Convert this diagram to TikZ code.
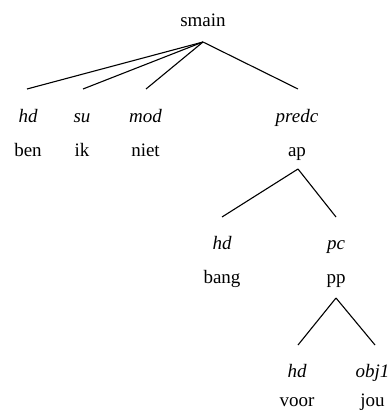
\documentclass[tikz,border=0pt]{standalone}
\usepackage{fontspec}
\setmainfont{Liberation Serif}
\newfontfamily\tnr{Liberation Serif}
\begin{document}
\begin{tikzpicture}[x=1pt,y=-1pt,
  txt/.style={anchor=base,inner sep=0pt,font=\tnr\fontsize{19}{22}\selectfont},
  rel/.style={txt,font=\tnr\fontsize{19}{22}\selectfont\itshape},
  edge/.style={line width=1.1pt,line join=round}]
\useasboundingbox (0,0) rectangle (390,412);
% level 0
\node[txt] (smain) at (203,27) {smain};
\coordinate (smainb) at (203,42);
% level 1
\node[rel] (r1) at (28,122) {hd};
\node[txt] (w1) at (28,156) {ben};
\node[rel] (r2) at (82,122) {su};
\node[txt] (w2) at (82,156) {ik};
\node[rel] (r3) at (145.5,122) {mod};
\node[txt] (w3) at (145.5,156) {niet};
\node[rel] (r4) at (297,122) {predc};
\node[txt] (ap) at (297,156) {ap};
\coordinate (t1) at (27,89);
\coordinate (t2) at (83,89);
\coordinate (t3) at (146,89);
\coordinate (t4) at (298,89);
\draw[edge] (smainb) -- (t1);
\draw[edge] (smainb) -- (t2);
\draw[edge] (smainb) -- (t3);
\draw[edge] (smainb) -- (t4);
% level 2
\coordinate (apb) at (298,169);
\node[rel] (r5) at (222,249) {hd};
\node[txt] (w5) at (222,283) {bang};
\node[rel] (r6) at (336,249) {pc};
\node[txt] (pp) at (336,283) {pp};
\coordinate (t5) at (222,217);
\coordinate (t6) at (336,217);
\draw[edge] (apb) -- (t5);
\draw[edge] (apb) -- (t6);
% level 3
\coordinate (ppb) at (336,298);
\node[rel] (r7) at (297,377) {hd};
\node[txt] (w7) at (297,406) {voor};
\node[rel] (r8) at (372.5,377) {obj1};
\node[txt] (w8) at (372.5,406) {jou};
\coordinate (t7) at (298,345);
\coordinate (t8) at (375,345);
\draw[edge] (ppb) -- (t7);
\draw[edge] (ppb) -- (t8);
\end{tikzpicture}
\end{document}
